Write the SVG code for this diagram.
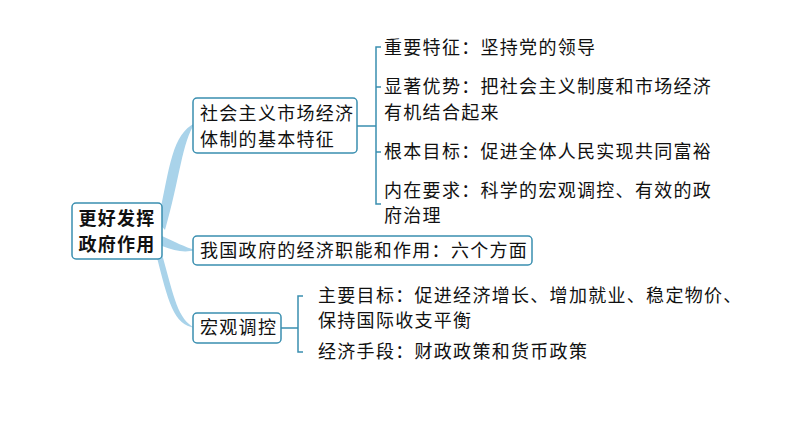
<svg xmlns="http://www.w3.org/2000/svg" width="794" height="447" viewBox="0 0 794 447">
<style>
.box{fill:#fff;stroke:#3a8fb0;stroke-width:1.5}
.t{font-family:"Noto Sans CJK SC","Liberation Sans",sans-serif;font-size:18px;letter-spacing:1.3px;fill:#111}
.b{font-weight:bold}
.ln{stroke:#3a8fb0;stroke-width:1.5;fill:none}
.cv{fill:#a9d3ea}
</style>
<rect width="794" height="447" fill="#fff"/>
<g id="connectors">
<path class="cv" d="M158,222 C170,165 172,135 195,123 C182,142 180,178 165,230 Z"/>
<path class="cv" d="M162,236 C175,242 185,247 195,250 C185,253 175,251 162,246 Z"/>
<path class="cv" d="M158,240 C174,295 176,318 195,328 C172,324 168,300 154,246 Z"/>
<path class="ln" d="M357,126 H376 M381,47 H376 V204 H381 M376,87 H381 M376,152 H381"/>
<path class="ln" d="M281,328 H298 M303,296 H298 V352 H303"/>
</g>
<g id="root"><rect class="box" x="72" y="203" width="90" height="56" rx="4"/>
<text class="t b" x="117" y="225" text-anchor="middle">更好发挥</text>
<text class="t b" x="117" y="251" text-anchor="middle">政府作用</text></g>
<g id="n1"><rect class="box" x="193" y="98" width="164" height="55" rx="4"/>
<text class="t" x="200" y="120">社会主义市场经济</text>
<text class="t" x="200" y="146">体制的基本特征</text></g>
<g id="n2"><rect class="box" x="193" y="236" width="339" height="29" rx="4"/>
<text class="t" x="200" y="257">我国政府的经济职能和作用：六个方面</text></g>
<g id="n3"><rect class="box" x="193" y="313" width="88" height="30" rx="4"/>
<text class="t" x="200" y="334">宏观调控</text></g>
<g id="l1"><text class="t" x="384" y="54">重要特征：坚持党的领导</text></g>
<g id="l2"><text class="t" x="384" y="93">显著优势：把社会主义制度和市场经济</text><text class="t" x="384" y="119">有机结合起来</text></g>
<g id="l3"><text class="t" x="384" y="158">根本目标：促进全体人民实现共同富裕</text></g>
<g id="l4"><text class="t" x="384" y="197">内在要求：科学的宏观调控、有效的政</text><text class="t" x="384" y="222">府治理</text></g>
<g id="l5"><text class="t" x="318" y="302">主要目标：促进经济增长、增加就业、稳定物价、</text><text class="t" x="318" y="327">保持国际收支平衡</text></g>
<g id="l6"><text class="t" x="318" y="358">经济手段：财政政策和货币政策</text></g>
</svg>
